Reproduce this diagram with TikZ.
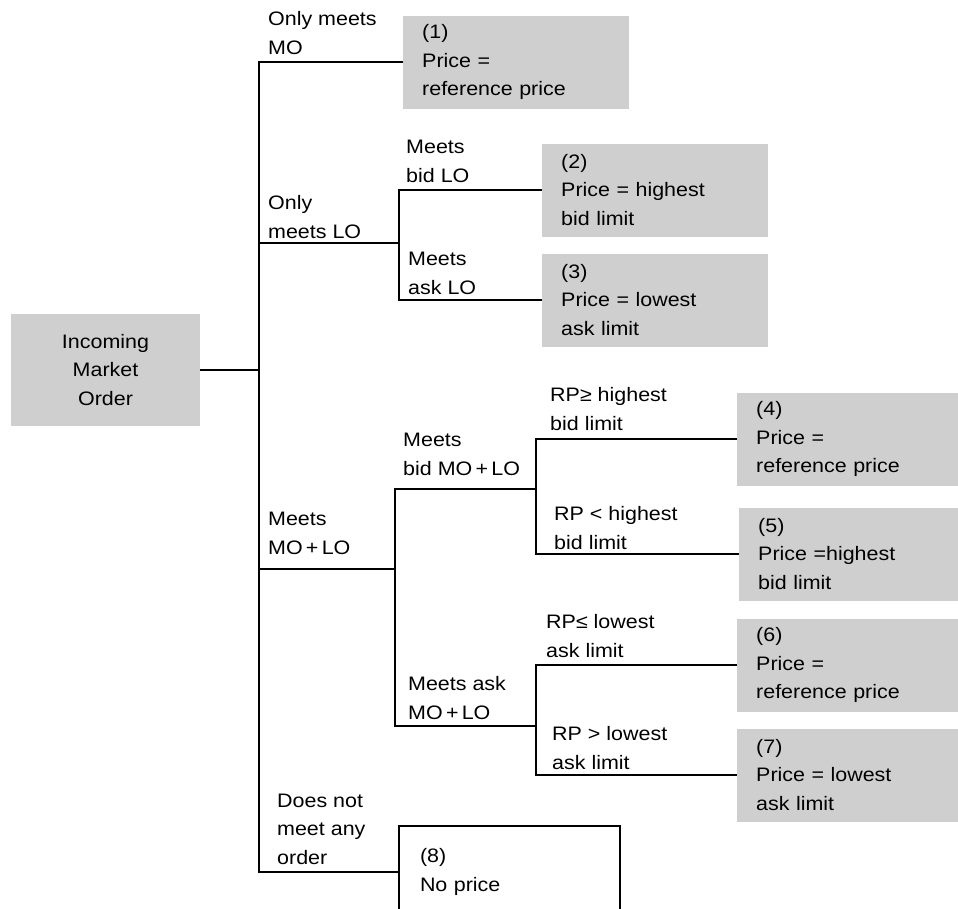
\documentclass[tikz,border=0pt]{standalone}
\usepackage{fontspec}
\setmainfont{Liberation Sans}[FakeStretch=1.1]
\definecolor{resultgray}{RGB}{207,207,207}
\begin{document}
\begin{tikzpicture}[x=1pt,y=-1pt,
  every node/.style={font=\fontsize{19.5}{28.5}\selectfont},
  branch/.style={line width=2.5pt, line join=miter},
  % multi-line labels are placed by the baseline of their last line
  lbl/.style={anchor=base west, inner sep=0pt, align=left},
  result/.style={fill=resultgray, minimum width=226pt, minimum height=93pt,
    text width=188pt, inner xsep=19pt, inner ysep=0pt, align=left, anchor=west},
  noresult/.style={result, fill=white, draw=black, line width=2pt,
    minimum width=221pt, text width=179pt, inner xsep=21pt},
  rootbox/.style={fill=resultgray, minimum width=189pt, minimum height=112pt,
    align=center, inner sep=0pt}]
\useasboundingbox (0,0) rectangle (958,908);

% start node
\node[rootbox] (root) at (105.5,370) {Incoming\\Market\\Order};

% outcome boxes
\node[result] (r1) at (403,62)  {(1)\\Price =\\reference price};
\node[result] (r2) at (542,190) {(2)\\Price = highest\\bid limit};
\node[result] (r3) at (542,300) {(3)\\Price = lowest\\ask limit};
\node[result] (r4) at (737,439) {(4)\\Price =\\reference price};
\node[result] (r5) at (739,554) {(5)\\Price =highest\\bid limit};
\node[result] (r6) at (737,665) {(6)\\Price =\\reference price};
\node[result] (r7) at (737,775) {(7)\\Price = lowest\\ask limit};
\node[noresult] (r8) at (398,872) {(8)\\No price};

% junction points of the tree
\coordinate (jRoot) at (259,370);
\coordinate (trunkBot) at (259,872);
\coordinate (jLO) at (259,243);
\coordinate (kLO) at (399,243);
\coordinate (kLObot) at (399,300);
\coordinate (jM) at (259,569);
\coordinate (kM) at (395,569);
\coordinate (kMbot) at (395,726);
\coordinate (mB) at (536,489);
\coordinate (mBbot) at (536,554);
\coordinate (mA) at (536,726);
\coordinate (mAbot) at (536,775);

% connectors
\draw[branch] (root.east) -- (jRoot);
\draw[branch] (r1.west) -| (trunkBot) -- (r8.west);
\draw[branch] (jLO) -- (kLO);
\draw[branch] (r2.west) -| (kLObot) -- (r3.west);
\draw[branch] (jM) -- (kM);
\draw[branch] (mB) -| (kMbot) -- (mA);
\draw[branch] (r4.west) -| (mBbot) -- (r5.west);
\draw[branch] (r6.west) -| (mAbot) -- (r7.west);

% branch labels
\node[lbl] (l1)  at (268,54)  {Only meets\\MO};
\node[lbl] (l2)  at (268,238) {Only\\meets LO};
\node[lbl] (l3)  at (406,182) {Meets\\bid LO};
\node[lbl] (l4)  at (408,294) {Meets\\ask LO};
\node[lbl] (l5)  at (268,554) {Meets\\MO{\,}+{\,}LO};
\node[lbl] (l6)  at (403,475) {Meets\\bid MO{\,}+{\,}LO};
\node[lbl] (l7)  at (550,430) {RP≥ highest\\bid limit};
\node[lbl] (l8)  at (554,549) {RP < highest\\bid limit};
\node[lbl] (l9)  at (408,719) {Meets ask\\MO{\,}+{\,}LO};
\node[lbl] (l10) at (546,657) {RP≤ lowest\\ask limit};
\node[lbl] (l11) at (552,769) {RP > lowest\\ask limit};
\node[lbl] (l12) at (277,864) {Does not\\meet any\\order};
\end{tikzpicture}
\end{document}
